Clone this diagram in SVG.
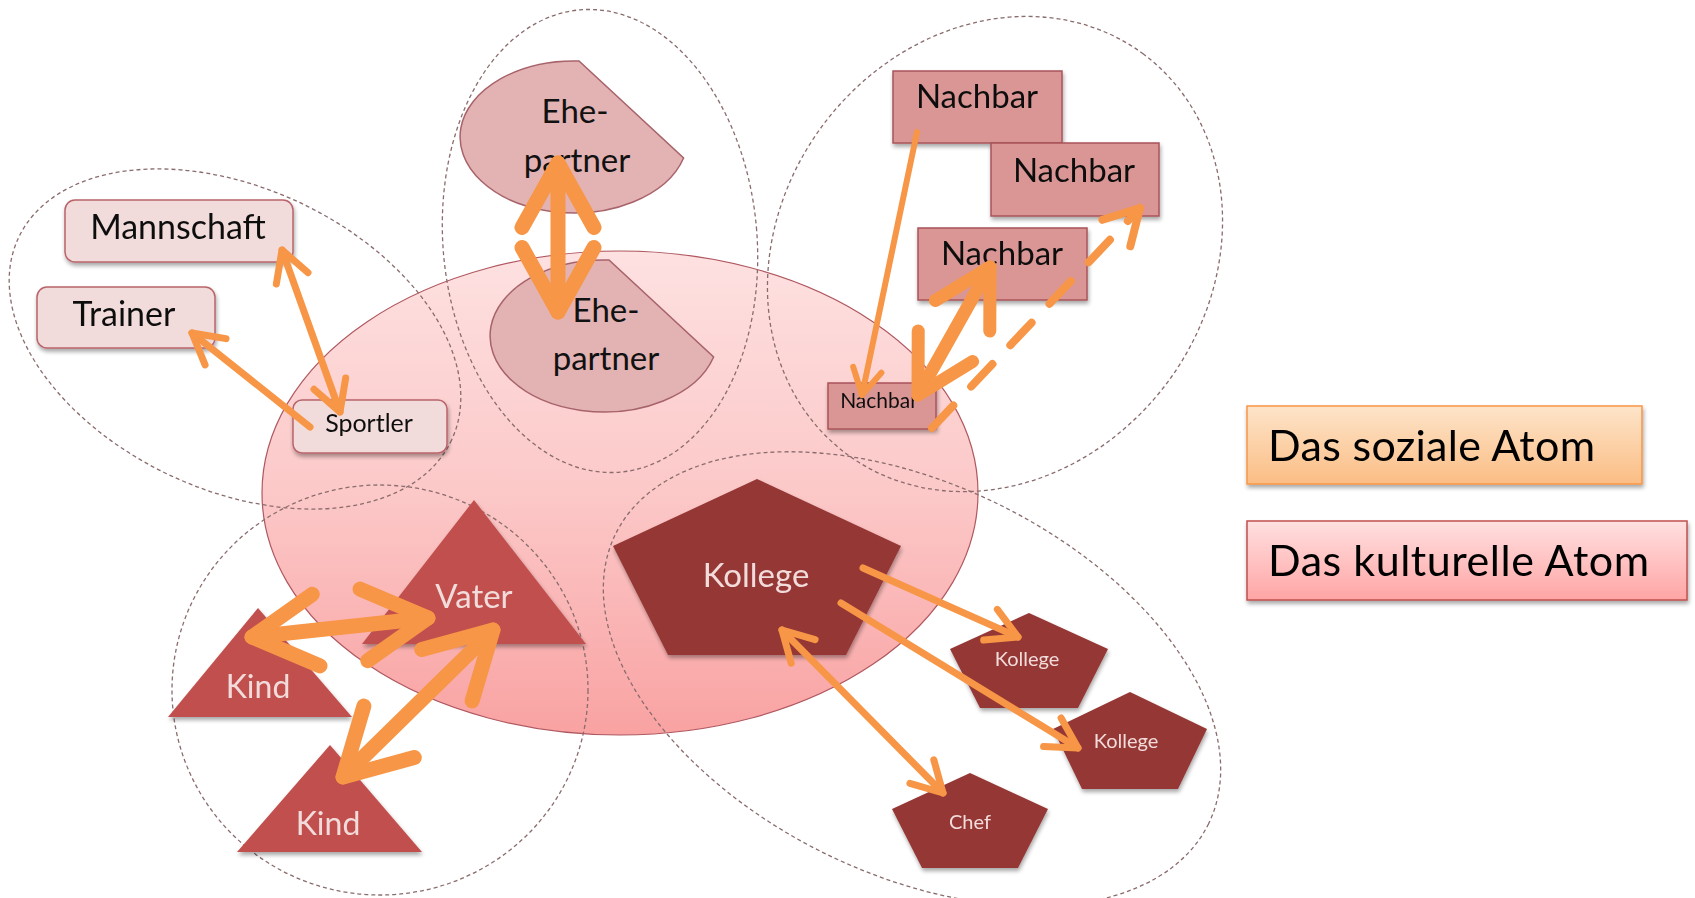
<svg xmlns="http://www.w3.org/2000/svg" width="1695" height="898" viewBox="0 0 1695 898">
<defs>
<style>
.zone{fill:none;stroke:#8a6c6c;stroke-width:1.3;stroke-dasharray:4 3}
.boxl{fill:#f2dcdb;stroke:#b9646a;stroke-width:1.5}
.boxn{fill:#d99694;stroke:#a9545a;stroke-width:1.5}
.ehe{fill:#e3b3b3;stroke:#a8636a;stroke-width:1.5}
.tri{fill:#c0504d}
.pent{fill:#953735}
.t{font-family:Lato,"Liberation Sans",sans-serif;text-anchor:middle}
.dk{fill:#111}
.lt{fill:#f2dcdb}
.lg{font-family:Lato,"Liberation Sans",sans-serif;font-size:43px;fill:#000}
.arr{fill:none;stroke:#f79646;stroke-linecap:round;marker-end:url(#ah)}
.both{marker-start:url(#ah)}
.sh{filter:url(#shadow)}
</style>
<linearGradient id="gCore" x1="0" y1="0" x2="0" y2="1">
<stop offset="0" stop-color="#fee1e1"/><stop offset="0.5" stop-color="#fcc8c8"/><stop offset="1" stop-color="#f9a2a2"/>
</linearGradient>
<linearGradient id="gOrange" x1="0" y1="0" x2="0" y2="1">
<stop offset="0" stop-color="#fde4ca"/><stop offset="1" stop-color="#fbbd84"/>
</linearGradient>
<linearGradient id="gRed" x1="0" y1="0" x2="0" y2="1">
<stop offset="0" stop-color="#ffe0e0"/><stop offset="1" stop-color="#ffa5a5"/>
</linearGradient>
<filter id="shadow" x="-20%" y="-20%" width="140%" height="150%">
<feGaussianBlur in="SourceAlpha" stdDeviation="2"/>
<feOffset dx="1" dy="3" result="b"/>
<feComponentTransfer><feFuncA type="linear" slope="0.35"/></feComponentTransfer>
<feMerge><feMergeNode/><feMergeNode in="SourceGraphic"/></feMerge>
</filter>
<marker id="ah" viewBox="-6 -4 8 8" refX="0" refY="0" markerWidth="8" markerHeight="8" markerUnits="strokeWidth" orient="auto-start-reverse" overflow="visible">
<path d="M-4.3,-2.4 L0,0 L-4.3,2.4" fill="none" stroke="#f79646" stroke-width="1" stroke-linecap="round" stroke-linejoin="round"/>
</marker>
</defs>

<g id="core-atom">
<ellipse cx="620" cy="493" rx="358" ry="242" fill="url(#gCore)" stroke="#b05860" stroke-width="1.2"/>
</g>

<g id="zones">
<ellipse class="zone" cx="235" cy="339" rx="239" ry="151" transform="rotate(25 235 339)"/>
<ellipse class="zone" cx="600" cy="241" rx="157" ry="232" transform="rotate(-5 600 241)"/>
<ellipse class="zone" cx="995" cy="254" rx="249" ry="215" transform="rotate(-53.6 995 254)"/>
<ellipse class="zone" cx="380" cy="690" rx="208" ry="205"/>
<ellipse class="zone" cx="912" cy="679" rx="330" ry="195" transform="rotate(26 912 679)"/>
</g>

<g id="node-mannschaft" class="sh">
<rect class="boxl" x="65" y="200" width="228" height="62" rx="10"/>
<text class="t dk" x="178" y="239" font-size="34">Mannschaft</text>
</g>
<g id="node-trainer" class="sh">
<rect class="boxl" x="37" y="287" width="178" height="61" rx="10"/>
<text class="t dk" x="124" y="326" font-size="34">Trainer</text>
</g>
<g id="node-sportler" class="sh">
<rect class="boxl" x="293" y="400" width="154" height="53" rx="9"/>
<text class="t dk" x="369" y="432" font-size="25">Sportler</text>
</g>

<g id="node-ehepartner-1">
<path class="ehe" d="M683.6,158 A114 76 0 1 1 579,61 Z"/>
<text class="t dk" x="575" y="123" font-size="33">Ehe-</text>
<text class="t dk" x="577" y="172" font-size="33">partner</text>
</g>
<g id="node-ehepartner-2">
<path class="ehe" d="M713.6,357 A114 76 0 1 1 609,260 Z"/>
<text class="t dk" x="606" y="322" font-size="33">Ehe-</text>
<text class="t dk" x="606" y="370" font-size="33">partner</text>
</g>

<g id="node-nachbar-1" class="sh">
<rect class="boxn" x="893" y="71" width="169" height="72"/>
<text class="t dk" x="977" y="108" font-size="33">Nachbar</text>
</g>
<g id="node-nachbar-2" class="sh">
<rect class="boxn" x="991" y="143" width="168" height="73"/>
<text class="t dk" x="1074" y="182" font-size="33">Nachbar</text>
</g>
<g id="node-nachbar-3" class="sh">
<rect class="boxn" x="918" y="228" width="169" height="72"/>
<text class="t dk" x="1002" y="265" font-size="33">Nachbar</text>
</g>
<g id="node-nachbar-4" class="sh">
<rect class="boxn" x="828" y="383" width="108" height="46"/>
<text class="t dk" x="879" y="408" font-size="21">Nachbar</text>
</g>

<g id="node-vater" class="sh">
<polygon class="tri" points="474,500 586,644 362,644"/>
<text class="t lt" x="474" y="608" font-size="33">Vater</text>
</g>
<g id="node-kind-1" class="sh">
<polygon class="tri" points="258,608 352,717 168,717"/>
<text class="t lt" x="258" y="698" font-size="32">Kind</text>
</g>
<g id="node-kind-2" class="sh">
<polygon class="tri" points="330,745 422,852 237,852"/>
<text class="t lt" x="328" y="835" font-size="32">Kind</text>
</g>

<g id="node-kollege" class="sh">
<polygon class="pent" points="757,479 901,546 846,655 668,655 613,546"/>
<text class="t lt" x="756" y="587" font-size="33">Kollege</text>
</g>
<g id="node-kollege-1" class="sh">
<polygon class="pent" points="1029,613 1108,649 1078,708 980,708 950,649"/>
<text class="t lt" x="1027" y="666" font-size="20">Kollege</text>
</g>
<g id="node-kollege-2" class="sh">
<polygon class="pent" points="1130,692 1207,729 1178,789 1082,789 1053,729"/>
<text class="t lt" x="1126" y="748" font-size="20">Kollege</text>
</g>
<g id="node-chef" class="sh">
<polygon class="pent" points="970,773 1048,809 1018,868 922,868 892,809"/>
<text class="t lt" x="970" y="829" font-size="20">Chef</text>
</g>

<g id="connectors">
<line class="arr both" x1="282" y1="250" x2="340" y2="412" stroke-width="7"/>
<line class="arr" x1="310" y1="427" x2="192" y2="333" stroke-width="7"/>
<line class="arr both" x1="558" y1="163" x2="558" y2="312" stroke-width="15"/>
<line class="arr" x1="917" y1="132" x2="862" y2="395" stroke-width="6"/>
<line class="arr both" x1="990" y1="267" x2="918" y2="395" stroke-width="13"/>
<line class="arr" x1="932" y1="428" x2="1140" y2="208" stroke-width="8" stroke-dasharray="31 26" stroke-linecap="butt"/>
<line class="arr both" x1="252" y1="637" x2="428" y2="618" stroke-width="15"/>
<line class="arr both" x1="493" y1="630" x2="343" y2="777" stroke-width="15"/>
<line class="arr" x1="863" y1="568" x2="1018" y2="637" stroke-width="7"/>
<line class="arr" x1="841" y1="603" x2="1078" y2="748" stroke-width="7"/>
<line class="arr both" x1="782" y1="630" x2="943" y2="793" stroke-width="7"/>
</g>

<g id="legend-sozial" class="sh">
<rect x="1247" y="406" width="395" height="78" fill="url(#gOrange)" stroke="#f79646" stroke-width="1.5"/>
<text class="lg" x="1268" y="461" textLength="327">Das soziale Atom</text>
</g>
<g id="legend-kulturell" class="sh">
<rect x="1247" y="521" width="440" height="79" fill="url(#gRed)" stroke="#c0504d" stroke-width="1.5"/>
<text class="lg" x="1268" y="576" textLength="381">Das kulturelle Atom</text>
</g>
</svg>
